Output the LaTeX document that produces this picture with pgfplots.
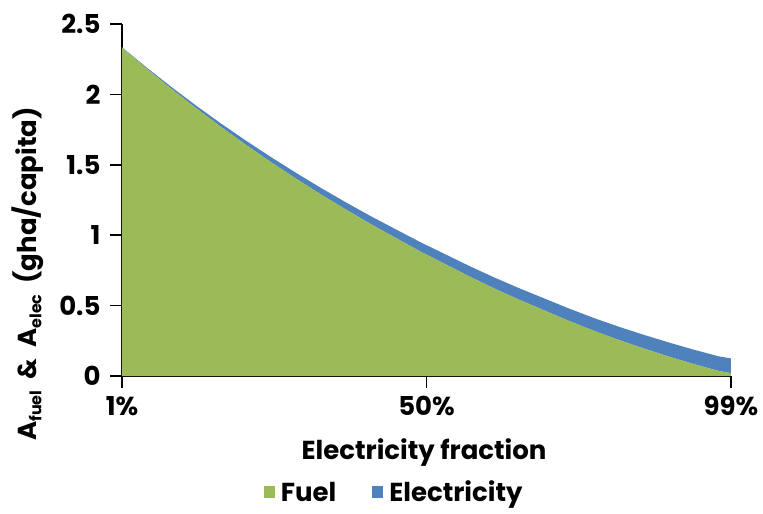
\documentclass[border=0pt]{standalone}
\usepackage{fontspec}
\setmainfont{Poppins}
\usepackage{pgfplots}
\pgfplotsset{compat=1.18}
\definecolor{fuelgreen}{HTML}{9BBB59}
\definecolor{elecblue}{HTML}{4F81BD}
\newcommand{\sub}[1]{\raisebox{-0.35ex}{\fontsize{16}{16}\selectfont #1}}
\newcommand{\bigfont}{\fontsize{26}{30}\selectfont\bfseries}
\begin{document}
\begin{tikzpicture}
\begin{axis}[
    at={(0pt,0pt)}, anchor=south west,
    width=609pt, height=352pt,
    scale only axis,
    xmin=1, xmax=99, ymin=0, ymax=2.5,
    axis x line*=bottom, axis y line*=left,
    axis line style={line width=1.6pt, black},
    tick style={line width=1.6pt, black},
    tick align=outside,
    major tick length=12pt,
    xtick={1,50,99},
    xticklabels={1\%,50\%,99\%},
    ytick={0,0.5,1,1.5,2,2.5},
    /pgf/number format/assume math mode=true,
    font=\bigfont,
    ticklabel style={font=\bigfont},
    xticklabel style={yshift=-5pt},
    yticklabel style={xshift=-6pt},
    stack plots=y,
    xlabel={Electricity fraction},
    xlabel style={at={(axis description cs:0.496,-0.216)}, anchor=center},
    ylabel={A\sub{fuel}\ \ \&\ \ A\sub{elec}\ \ (gha/capita)},
    ylabel style={at={(axis description cs:-0.155,0.29)}, anchor=center},
    legend columns=2,
    legend style={draw=none, fill=none, at={(axis description cs:0.447,-0.33)}, anchor=center,
        font=\bigfont,
        /tikz/every odd column/.append style={column sep=4pt},
        /tikz/every even column/.append style={column sep=34pt}},
    legend image code/.code={\fill[#1] (0pt,-6pt) rectangle (11pt,6pt);},
]
% Fuel
\addplot[fill=fuelgreen, draw=none] coordinates {
(1,2.332) (5,2.182) (9,2.038) (13,1.900) (17,1.767) (21,1.640) (25,1.518)
(29,1.402) (33,1.290) (37,1.183) (41,1.080) (45,0.982) (49,0.885) (53,0.795)
(57,0.705) (61,0.620) (65,0.540) (69,0.465) (73,0.390) (77,0.320) (81,0.255)
(85,0.195) (89,0.138) (93,0.085) (97,0.036) (99,0.020)
} \closedcycle;
% Electricity (stacked on fuel)
\addplot[fill=elecblue, draw=none] coordinates {
(1,0.003) (5,0.008) (9,0.013) (13,0.018) (17,0.024) (21,0.030) (25,0.036)
(29,0.041) (33,0.046) (37,0.051) (41,0.056) (45,0.061) (49,0.066) (53,0.070)
(57,0.074) (61,0.078) (65,0.082) (69,0.085) (73,0.088) (77,0.091) (81,0.094)
(85,0.097) (89,0.100) (93,0.102) (97,0.104) (99,0.105)
} \closedcycle;
\legend{Fuel, Electricity}
\end{axis}
\pgfresetboundingbox
\useasboundingbox (-122pt,-138pt) rectangle (641pt,376pt);
\end{tikzpicture}
\end{document}
